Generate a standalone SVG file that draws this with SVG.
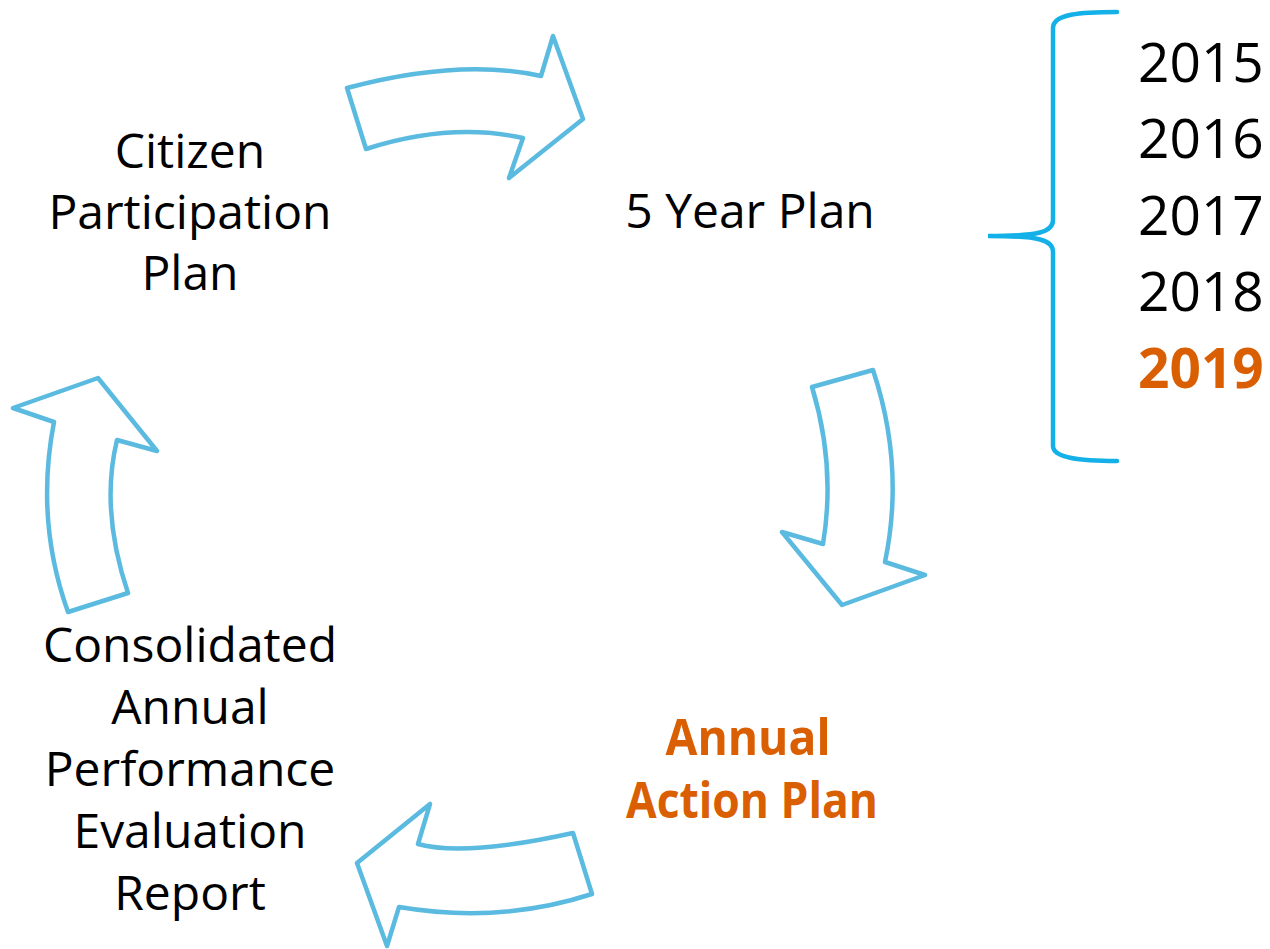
<svg xmlns="http://www.w3.org/2000/svg" width="1270" height="949" viewBox="0 0 1270 949">
<style>
.arrow{fill:#fff;stroke:#5BBADF;stroke-width:4.5;stroke-linejoin:round}
.brace{fill:none;stroke:#14B0E8;stroke-width:4.5;stroke-linecap:round}
.t{font-family:"Open Sans","Liberation Sans",sans-serif;font-size:48px;fill:#000;text-anchor:middle}
.o{font-family:"Open Sans","Liberation Sans",sans-serif;font-size:50px;font-weight:bold;fill:#D95F02;text-anchor:middle}
.y{font-family:"Open Sans","Liberation Sans",sans-serif;font-size:55px;fill:#000}
.yo{font-family:"Open Sans","Liberation Sans",sans-serif;font-size:55px;font-weight:bold;fill:#D95F02}
</style>
<rect width="1270" height="949" fill="#fff"/>
<g id="connectors">
<path class="arrow" d="M347,88 Q460,58 541,76 L553,36 L583,119 L509,178 L523,138 Q450,122 366,149 Z"/>
<path class="arrow" d="M812,387 L873,370 Q905,466 885,562 L925,575 L842,605 L782,532 L823,544 Q836,466 812,387 Z"/>
<path class="arrow" d="M430,804 L418,844 Q464,857 573,833 L592,894 Q500,924 399,907 L387,946 L357,863 Z"/>
<path class="arrow" d="M98,378 L157,451 L117,440 Q100,510 128,593 L68,612 Q35,520 54,422 L13,408 Z"/>
</g>
<g id="citizen">
<text class="t" x="190" y="168">Citizen</text>
<text class="t" x="190" y="229">Participation</text>
<text class="t" x="190" y="290">Plan</text>
</g>
<g id="five-year">
<text class="t" x="750" y="228">5 Year Plan</text>
</g>
<g id="annual-action">
<text class="o" x="748" y="755" textLength="165" lengthAdjust="spacingAndGlyphs">Annual</text>
<text class="o" x="752" y="818" textLength="252" lengthAdjust="spacingAndGlyphs">Action Plan</text>
</g>
<g id="caper">
<text class="t" x="190" y="662">Consolidated</text>
<text class="t" x="190" y="724">Annual</text>
<text class="t" x="190" y="786">Performance</text>
<text class="t" x="190" y="848">Evaluation</text>
<text class="t" x="190" y="910">Report</text>
</g>
<g id="years">
<path class="brace" d="M1117,12 C1080,12 1053,14 1053,28 L1053,220 C1053,232 1040,236 988,236 C1040,236 1053,240 1053,252 L1053,446 C1053,458 1080,461 1117,461"/>
<text class="y" x="1138" y="82">2015</text>
<text class="y" x="1138" y="158">2016</text>
<text class="y" x="1138" y="235">2017</text>
<text class="y" x="1138" y="311">2018</text>
<text class="yo" x="1138" y="388">2019</text>
</g>
</svg>
